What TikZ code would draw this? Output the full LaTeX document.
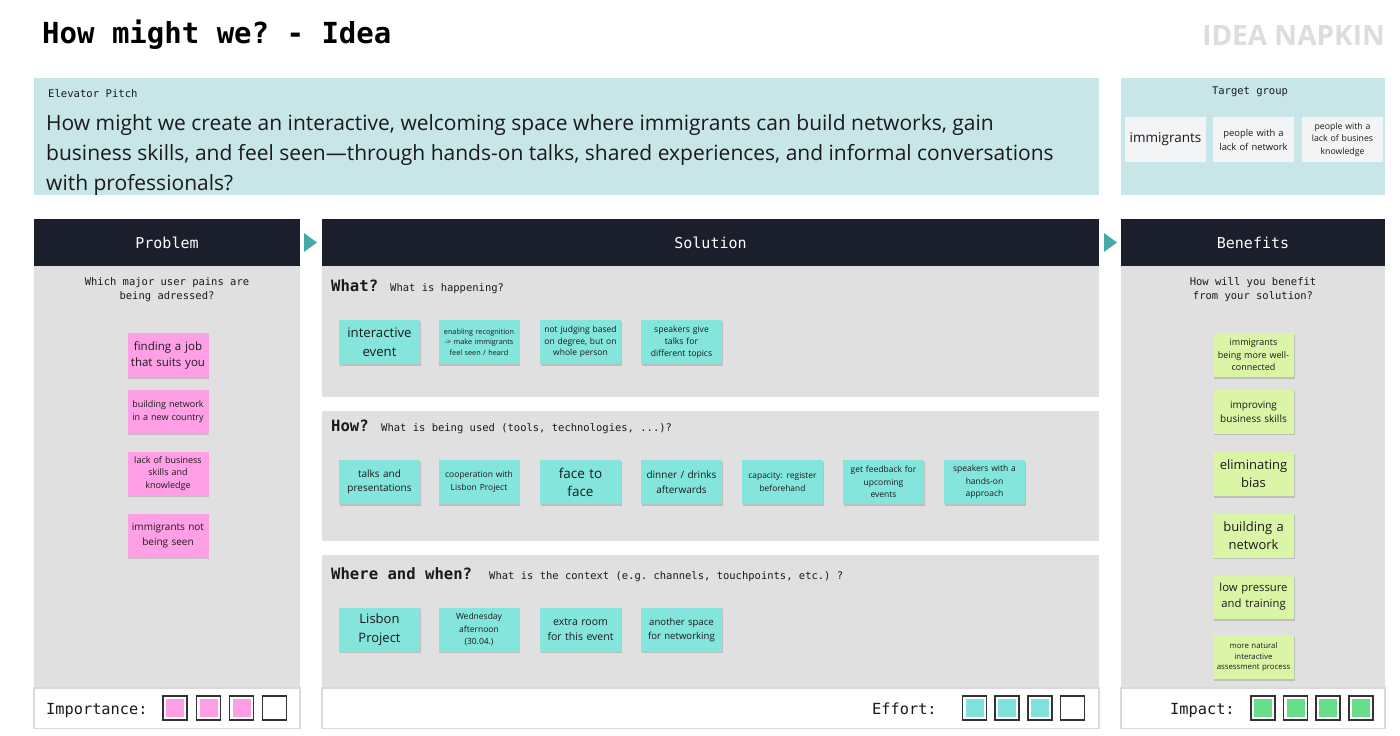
\documentclass[tikz,border=0pt]{standalone}
\usepackage{fontspec}
\setmainfont{Open Sans}
\setmonofont{DejaVu Sans Mono}
\usetikzlibrary{shadows}
\definecolor{pitchbg}{HTML}{C8E5E8}
\definecolor{panel}{HTML}{E0E0E0}
\definecolor{header}{HTML}{1B1F2B}
\definecolor{arrowc}{HTML}{45A9A8}
\definecolor{pinknote}{HTML}{FFA0E6}
\definecolor{tealnote}{HTML}{84E5DC}
\definecolor{greennote}{HTML}{D9F5A5}
\definecolor{card}{HTML}{F3F4F6}
\definecolor{impactc}{HTML}{67DD8C}
\definecolor{effortc}{HTML}{80E2DC}
\definecolor{importc}{HTML}{FF9EE6}
\definecolor{napkin}{HTML}{DDDDDD}
\definecolor{ink}{HTML}{1A1A1A}
\definecolor{boxline}{HTML}{DADADA}
\definecolor{sqline}{HTML}{333333}
\newcommand\fs[2]{\fontsize{#1}{#2}\selectfont}
\tikzset{
  note/.style={minimum width=81pt, minimum height=44pt, inner sep=0pt, align=center,
    text width=79pt, text=ink,
    drop shadow={shadow xshift=0.5pt, shadow yshift=-1.5pt, opacity=0.15, fill=black}},
  pnote/.style={note, fill=pinknote},
  tnote/.style={note, fill=tealnote},
  gnote/.style={note, fill=greennote},
  tcard/.style={minimum width=81pt, minimum height=45pt, inner sep=0pt, align=center,
    text width=79pt, fill=card, text=ink},
  headtxt/.style={text=white, font=\ttfamily\fs{15}{18}},
  subq/.style={align=center, font=\ttfamily\fs{10.5}{14}, text=ink},
  rowhead/.style={anchor=base west, inner sep=0pt, font=\ttfamily\bfseries\fs{15.6}{18}, text=ink},
  rowsub/.style={anchor=base west, inner sep=0pt, font=\ttfamily\fs{10.5}{13}, text=ink},
  bottomlbl/.style={anchor=base west, inner sep=0pt, font=\ttfamily\fs{15.3}{18}, text=ink},
  rateouter/.style={draw=sqline, line width=1.2pt, minimum size=24pt, inner sep=0pt, fill=white},
  rateinner/.style={minimum size=18pt, inner sep=0pt},
  pitchtxt/.style={anchor=base west, inner sep=0pt, font=\fs{21}{30}, text=ink},
}
\begin{document}
\begin{tikzpicture}[x=1pt,y=-1pt]
\useasboundingbox (0,0) rectangle (1400,736);
\fill[white] (0,0) rectangle (1400,736);

% title
\node[anchor=west, inner sep=0pt, font=\ttfamily\bfseries\fs{29}{32}, text=black] (title) at (42,35) {How might we? - Idea};
\node[anchor=east, inner sep=0pt, font=\bfseries\fs{28}{30}, text=napkin] (napkin) at (1385,35) {IDEA NAPKIN};

% elevator pitch
\fill[pitchbg] (34,78) rectangle (1099,195);
\node[anchor=west, inner sep=0pt, font=\ttfamily\fs{10.6}{12}, text=ink] (eplabel) at (48,94) {Elevator Pitch};
\node[pitchtxt] (pitch1) at (46,130) {How might we create an interactive, welcoming space where immigrants can build networks, gain};
\node[pitchtxt] (pitch2) at (46,160) {business skills, and feel seen—through hands-on talks, shared experiences, and informal conversations};
\node[pitchtxt] (pitch3) at (46,190) {with professionals?};

% target group
\fill[pitchbg] (1121,78) rectangle (1385,195);
\node[inner sep=0pt, font=\ttfamily\fs{10.5}{12}, text=ink] (tglabel) at (1250,92) {Target group};
\node[tcard, font=\fs{13.5}{16}] (tg1) at (1165.5,139.5) {immigrants};
\node[tcard, font=\fs{9.4}{14}] (tg2) at (1253.5,139.5) {people with a\\lack of network};
\node[tcard, font=\fs{8.7}{12.5}] (tg3) at (1342.5,139.5) {people with a\\lack of busines\\knowledge};

% column panels
\fill[panel] (34,266) rectangle (300,729);
\fill[panel] (322,266) rectangle (1099,397);
\fill[panel] (322,411) rectangle (1099,541);
\fill[panel] (322,555) rectangle (1099,729);
\fill[panel] (1121,266) rectangle (1385,729);

% headers
\fill[header] (34,219) rectangle (300,266);
\fill[header] (322,219) rectangle (1099,266);
\fill[header] (1121,219) rectangle (1385,266);
\node[headtxt] (hprob) at (167,243) {Problem};
\node[headtxt] (hsol) at (710.5,243) {Solution};
\node[headtxt] (hben) at (1253,243) {Benefits};

% arrows between columns
\fill[arrowc] (304,233) -- (317,242.5) -- (304,252) -- cycle;
\fill[arrowc] (1104,233) -- (1117,242.5) -- (1104,252) -- cycle;

% problem
\node[subq] (probq) at (167,290) {Which major user pains are\\being adressed?};
\node[pnote, font=\fs{11.5}{16}] (p1) at (168,355) {finding a job\\that suits you};
\node[pnote, font=\fs{9}{12.5}] (p2) at (168,411.5) {building network\\in a new country};
\node[pnote, font=\fs{9}{12.5}] (p3) at (168,473.5) {lack of business\\skills and\\knowledge};
\node[pnote, font=\fs{10}{15}] (p4) at (168,535.5) {immigrants not\\being seen};

% solution: what
\node[rowhead] (what) at (331,291.5) {What?};
\node[rowsub] (whatq) at (390,291) {What is happening?};
\node[tnote, font=\fs{13.2}{19}] (w1) at (379.5,342) {interactive\\event};
\node[tnote, font=\fs{7.3}{10.5}] (w2) at (479,342) {enabling recognition\\-> make immigrants\\feel seen / heard};
\node[tnote, font=\fs{8.5}{11.5}] (w3) at (580.5,342) {not judging based\\on degree, but on\\whole person};
\node[tnote, font=\fs{8.6}{12}] (w4) at (681.5,342) {speakers give\\talks for\\different topics};

% solution: how
\node[rowhead] (how) at (331,431.5) {How?};
\node[rowsub] (howq) at (381,431) {What is being used (tools, technologies, ...)?};
\node[tnote, font=\fs{10}{14.5}] (h1) at (379.5,482) {talks and\\presentations};
\node[tnote, font=\fs{8.5}{12.5}] (h2) at (479,482) {cooperation with\\Lisbon Project};
\node[tnote, font=\fs{13.5}{18}] (h3) at (580.5,482) {face to\\face};
\node[tnote, font=\fs{10}{14.5}] (h4) at (681.5,482) {dinner / drinks\\afterwards};
\node[tnote, font=\fs{8.4}{12.5}] (h5) at (782.5,482) {capacity: register\\beforehand};
\node[tnote, font=\fs{8.5}{12.5}] (h6) at (883.5,482) {get feedback for\\upcoming\\events};
\node[tnote, font=\fs{8.5}{12.5}] (h7) at (984.5,482) {speakers with a\\hands-on\\approach};

% solution: where
\node[rowhead] (where) at (331,579.5) {Where and when?};
\node[rowsub] (whereq) at (489,579) {What is the context (e.g. channels, touchpoints, etc.) ?};
\node[tnote, font=\fs{13}{19}] (l1) at (379.5,629.5) {Lisbon\\Project};
\node[tnote, font=\fs{8.5}{12.5}] (l2) at (479,629.5) {Wednesday\\afternoon\\(30.04.)};
\node[tnote, font=\fs{10.5}{15}] (l3) at (580.5,629.5) {extra room\\for this event};
\node[tnote, font=\fs{9.6}{14}] (l4) at (681.5,629.5) {another space\\for networking};

% benefits
\node[subq] (benq) at (1253,290) {How will you benefit\\from your solution?};
\node[gnote, font=\fs{9}{12.5}] (b1) at (1253.5,355) {immigrants\\being more well-\\connected};
\node[gnote, font=\fs{10}{14}] (b2) at (1253.5,411.5) {improving\\business skills};
\node[gnote, font=\fs{13}{18}] (b3) at (1253.5,474) {eliminating\\bias};
\node[gnote, font=\fs{13}{18}] (b4) at (1253.5,535.5) {building a\\network};
\node[gnote, font=\fs{11.3}{16}] (b5) at (1253.5,597) {low pressure\\and training};
\node[gnote, font=\fs{7.8}{10.5}] (b6) at (1253.5,657) {more natural\\interactive\\assessment process};

% bottom rating boxes
\filldraw[fill=white, draw=boxline, line width=1.5pt] (34,688) rectangle (300,728.5);
\filldraw[fill=white, draw=boxline, line width=1.5pt] (322,688) rectangle (1099,728.5);
\filldraw[fill=white, draw=boxline, line width=1.5pt] (1121,688) rectangle (1385,728.5);

\node[bottomlbl] (implbl) at (46,714) {Importance:};
\node[rateouter] (i1) at (175,708) {};
\node[rateinner, fill=importc] at (i1) {};
\node[rateouter] (i2) at (208.5,708) {};
\node[rateinner, fill=importc] at (i2) {};
\node[rateouter] (i3) at (241.5,708) {};
\node[rateinner, fill=importc] at (i3) {};
\node[rateouter] (i4) at (274.5,708) {};

\node[bottomlbl] (efflbl) at (872,714) {Effort:};
\node[rateouter] (e1) at (974.5,708) {};
\node[rateinner, fill=effortc] at (e1) {};
\node[rateouter] (e2) at (1007,708) {};
\node[rateinner, fill=effortc] at (e2) {};
\node[rateouter] (e3) at (1040,708) {};
\node[rateinner, fill=effortc] at (e3) {};
\node[rateouter] (e4) at (1072.5,708) {};

\node[bottomlbl] (impactlbl) at (1170,714) {Impact:};
\node[rateouter] (m1) at (1263,708) {};
\node[rateinner, fill=impactc] at (m1) {};
\node[rateouter] (m2) at (1295.5,708) {};
\node[rateinner, fill=impactc] at (m2) {};
\node[rateouter] (m3) at (1328,708) {};
\node[rateinner, fill=impactc] at (m3) {};
\node[rateouter] (m4) at (1361,708) {};
\node[rateinner, fill=impactc] at (m4) {};
\end{tikzpicture}
\end{document}
